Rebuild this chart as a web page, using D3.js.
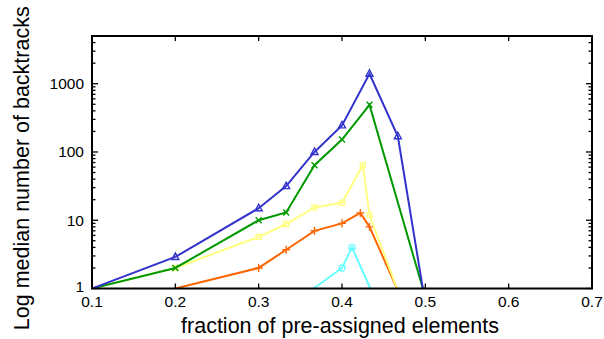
<!DOCTYPE html>
<html><head><meta charset="utf-8">
<script src="https://cdn.jsdelivr.net/npm/d3@7"></script>
<style>body{margin:0;background:#fff}svg{display:block}text{font-family:"Liberation Sans",Arial,sans-serif}</style>
</head><body><svg id="c" width="604" height="339"></svg>
<script>
const xTicks = [0.1,0.2,0.3,0.4,0.5,0.6,0.7];
const yTicks = [1,10,100,1000];
const blueX   = [0.1,0.2,0.3,0.333,0.367,0.4,0.433,0.467,0.497];
const blueY   = [1,2.9,15,31.6,100,245,1400,170,1];
const greenX  = [0.1,0.2,0.3,0.333,0.367,0.4,0.433,0.497];
const greenY  = [1,2,10,13,64,152,490,1];
const yellowX = [0.1,0.2,0.3,0.333,0.367,0.4,0.425,0.433,0.466];
const yellowY = [1,2,5.7,8.8,15.4,18,64,11.9,1];
const orangeX = [0.2,0.3,0.333,0.367,0.4,0.422,0.433,0.466];
const orangeY = [1,2,3.7,7,9,12.8,8,1];
const cyanX   = [0.366,0.4,0.412,0.434];
const cyanY   = [1,2,4,1];

const series = [
  {x:cyanX, y:cyanY, color:"#66ffff", m:"circle"},
  {x:orangeX, y:orangeY, color:"#ff6600", m:"plus"},
  {x:yellowX, y:yellowY, color:"#ffff80", m:"square"},
  {x:greenX, y:greenY, color:"#009900", m:"cross"},
  {x:blueX, y:blueY, color:"#3333cc", m:"triangle"}
];

const L=92, R=592, T=36, B=288.5;
const svg = d3.select("#c");
const x = d3.scaleLinear().domain([0.1,0.7]).range([L,R]);
const y = d3.scaleLog().domain([1,5000]).range([B,T]);

svg.append("defs").append("clipPath").attr("id","clip")
  .append("rect").attr("x",L).attr("y",T).attr("width",R-L).attr("height",B-T);

const g = svg.append("g").attr("clip-path","url(#clip)");
const line = d3.line().x(d=>x(d[0])).y(d=>y(d[1]));
series.forEach(s=>{
  const pts = s.x.map((v,i)=>[v,s.y[i]]);
  g.append("path").attr("d",line(pts)).attr("fill","none")
    .attr("stroke",s.color).attr("stroke-width",2).attr("stroke-linejoin","miter");
  pts.filter(p=>p[1]>1).forEach(p=>{
    const cx=x(p[0]), cy=y(p[1]), r=3;
    let sel;
    if(s.m==="circle") sel=g.append("circle").attr("cx",cx).attr("cy",cy).attr("r",r).attr("fill","none");
    else if(s.m==="square") sel=g.append("rect").attr("x",cx-r+0.5).attr("y",cy-r+0.5).attr("width",2*r-1).attr("height",2*r-1).attr("fill","none");
    else if(s.m==="plus") sel=g.append("path").attr("d",`M${cx-r-1},${cy}H${cx+r+1}M${cx},${cy-r-1}V${cy+r+1}`);
    else if(s.m==="cross") sel=g.append("path").attr("d",`M${cx-r},${cy-r}L${cx+r},${cy+r}M${cx-r},${cy+r}L${cx+r},${cy-r}`);
    else sel=g.append("path").attr("d",`M${cx},${cy-r-1}L${cx+r+0.5},${cy+r-0.5}L${cx-r-0.5},${cy+r-0.5}Z`).attr("fill","none");
    sel.attr("stroke",s.color).attr("stroke-width",1.4);
  });
});

// ticks
const tk = svg.append("g").attr("stroke","#000").attr("stroke-width",1.3);
xTicks.forEach(v=>{
  tk.append("line").attr("x1",x(v)).attr("x2",x(v)).attr("y1",B).attr("y2",B-5);
  tk.append("line").attr("x1",x(v)).attr("x2",x(v)).attr("y1",T).attr("y2",T+5);
});
const minor = y.ticks();
minor.forEach(v=>{
  const major = yTicks.includes(v);
  const len = major?6:3.5;
  tk.append("line").attr("x1",L).attr("x2",L+len).attr("y1",y(v)).attr("y2",y(v));
  tk.append("line").attr("x1",R).attr("x2",R-len).attr("y1",y(v)).attr("y2",y(v));
});

svg.append("rect").attr("x",L).attr("y",T).attr("width",R-L).attr("height",B-T)
  .attr("fill","none").attr("stroke","#000").attr("stroke-width",2);

// labels
svg.append("g").selectAll("text").data(xTicks).join("text")
  .attr("x",d=>x(d)).attr("y",B+18).attr("text-anchor","middle")
  .attr("font-size",15.5).text(d=>d.toFixed(1));
svg.append("g").selectAll("text").data(yTicks).join("text")
  .attr("x",L-8).attr("y",d=>y(d)+(d===1?3:5.5)).attr("text-anchor","end")
  .attr("font-size",15.5).text(d=>String(d));

svg.append("text").attr("x",(L+R)/2-2).attr("y",333).attr("text-anchor","middle")
  .attr("font-size",21.5).text("fraction of pre-assigned elements");
svg.append("text").attr("transform",`translate(29,${(T+B)/2+6}) rotate(-90)`)
  .attr("text-anchor","middle").attr("font-size",21.5).text("Log median number of backtracks");
</script></body></html>
